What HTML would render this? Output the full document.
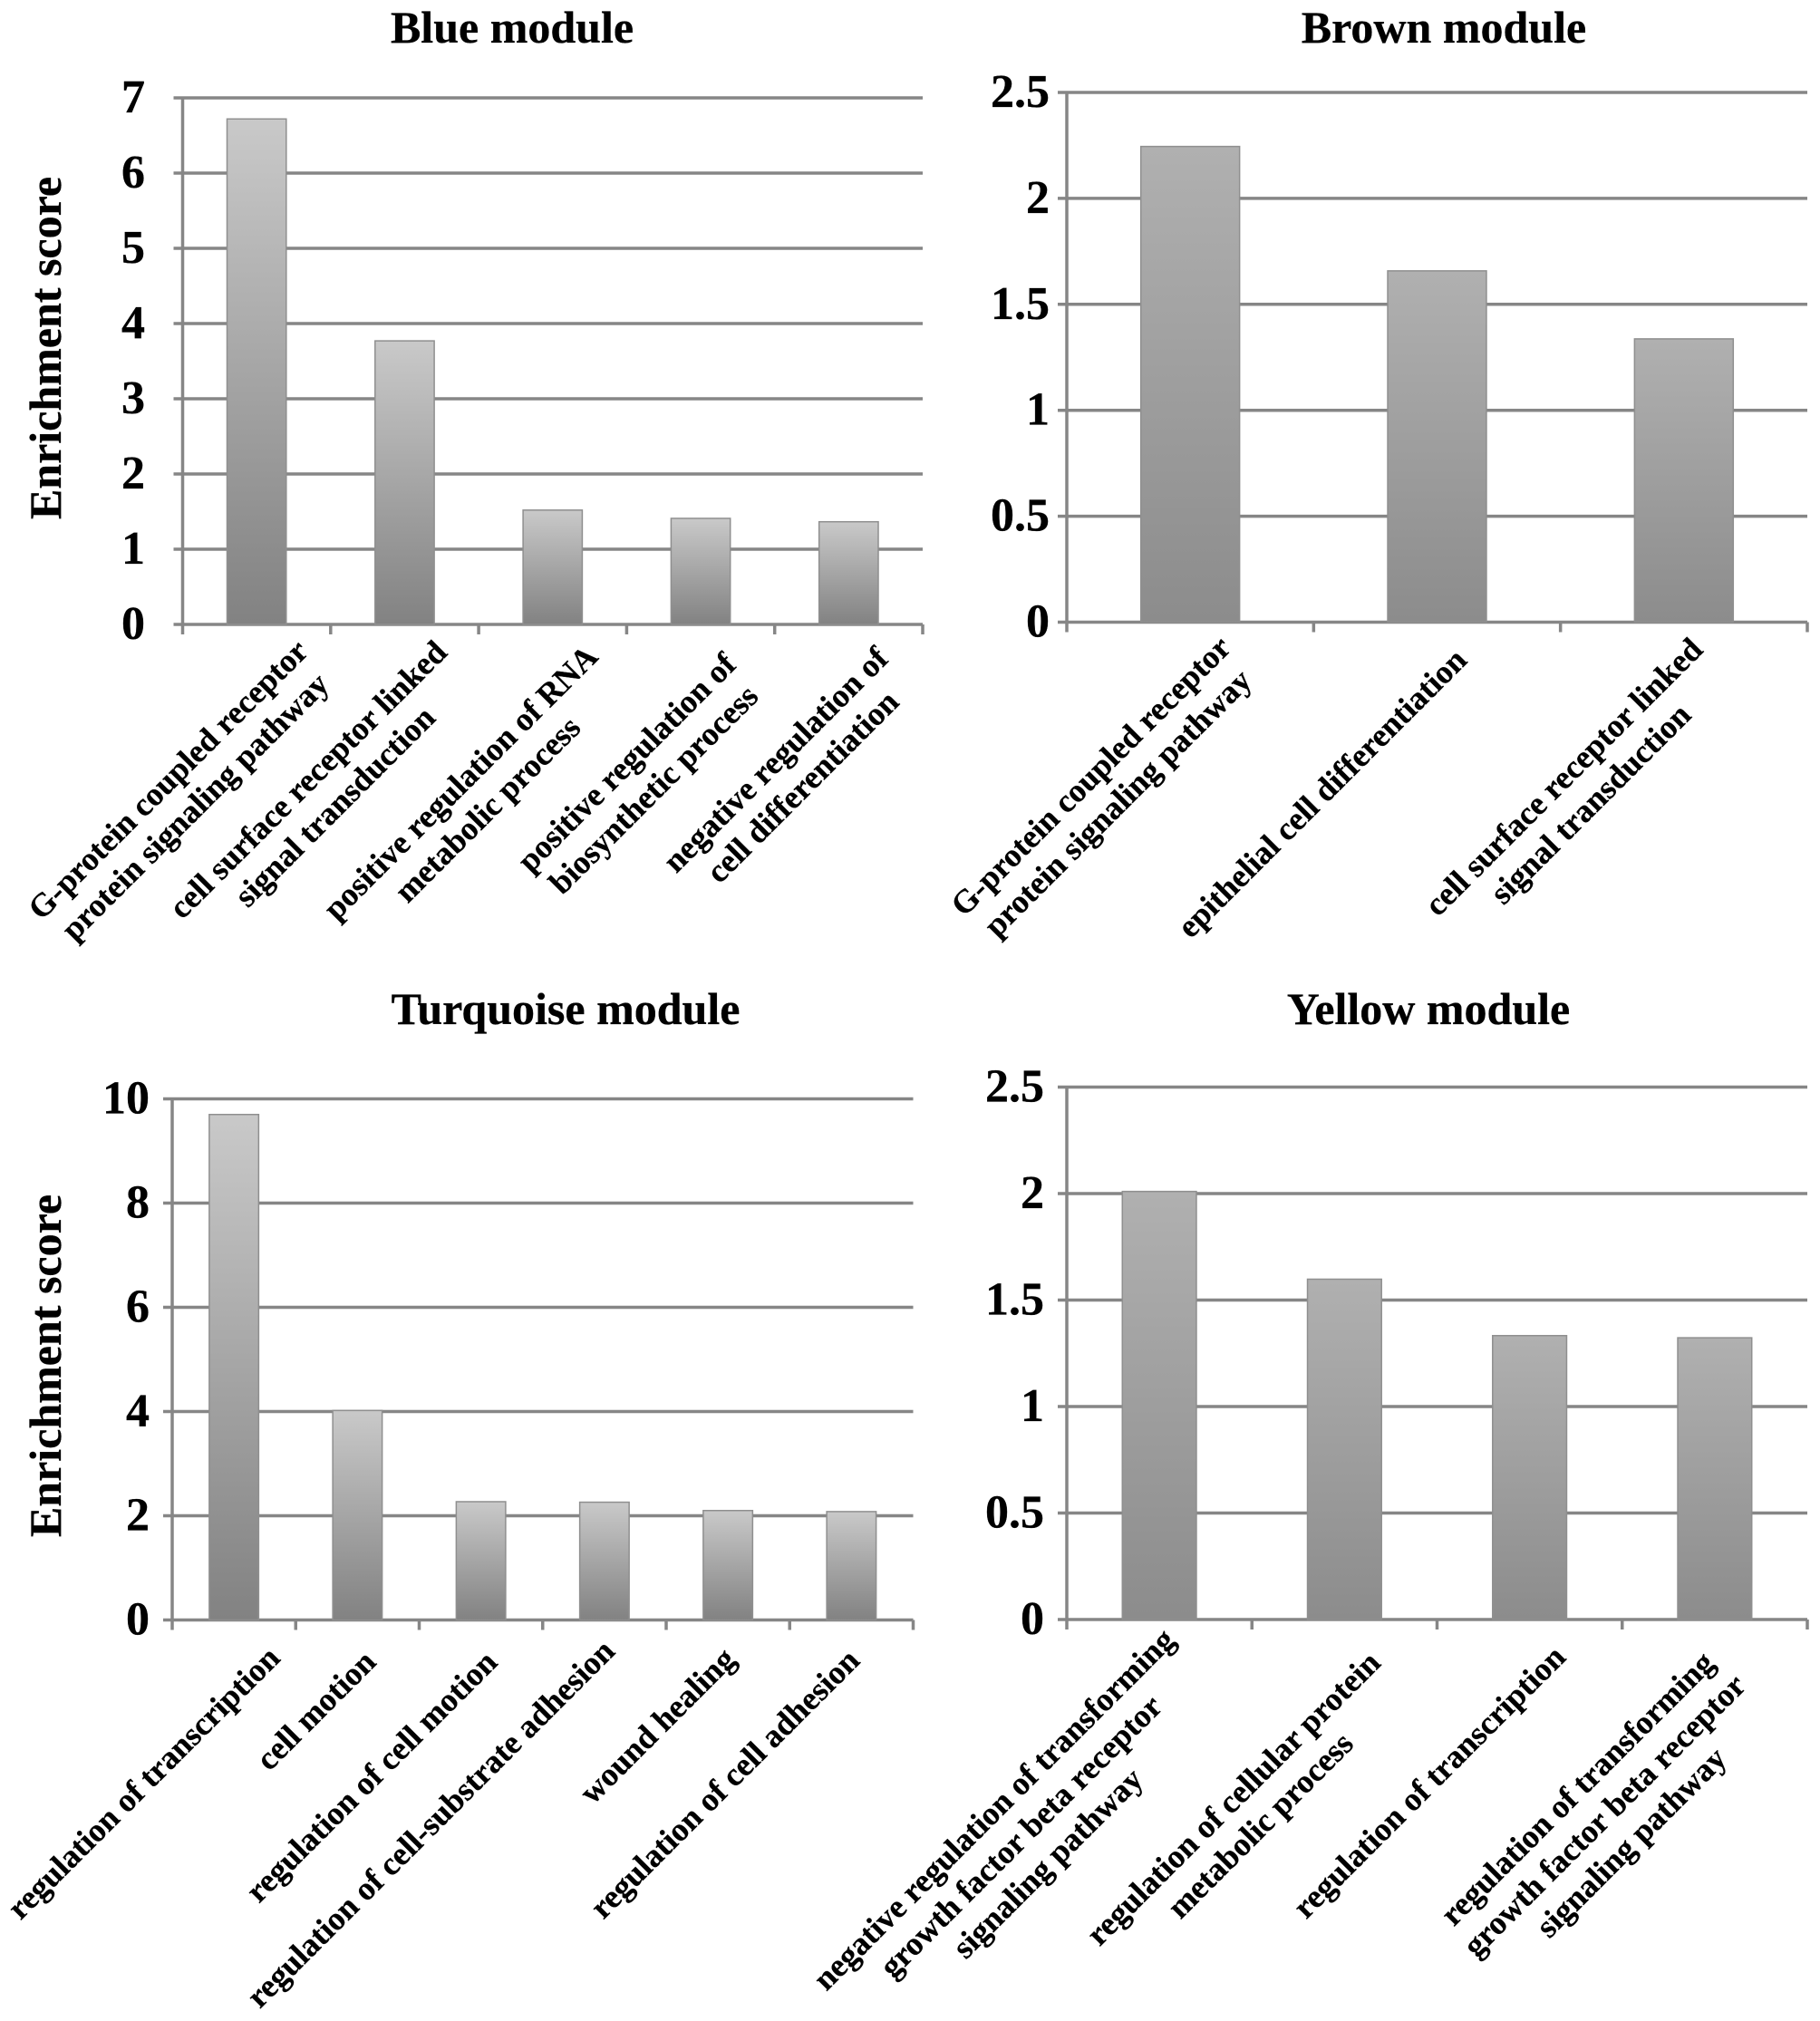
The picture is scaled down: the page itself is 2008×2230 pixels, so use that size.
<!DOCTYPE html>
<html>
<head>
<meta charset="utf-8">
<title>Module enrichment charts</title>
<style>
html,body{margin:0;padding:0;background:#fff;}
svg{display:block;}
text{font-family:"Liberation Serif",serif;font-weight:bold;fill:#000;stroke:#000;stroke-width:0.3px;}
</style>
</head>
<body>
<svg id="figure" xmlns="http://www.w3.org/2000/svg" width="2008" height="2230" viewBox="0 0 2008 2230">
<defs>
<linearGradient id="grad-light" x1="0" y1="0" x2="0" y2="1"><stop offset="0" stop-color="#c9c9c9"/><stop offset="1" stop-color="#828282"/></linearGradient>
<linearGradient id="grad-mid" x1="0" y1="0" x2="0" y2="1"><stop offset="0" stop-color="#b0b0b0"/><stop offset="1" stop-color="#8c8c8c"/></linearGradient>
</defs>
</svg>
<script>
const blueCategories = [["G-protein coupled receptor","protein signaling pathway"],["cell surface receptor linked","signal transduction"],["positive regulation of RNA","metabolic process"],["positive regulation of","biosynthetic process"],["negative regulation of","cell differentiation"]];
const blueValues = [6.72, 3.77, 1.52, 1.41, 1.365];
const blueTicks = ["0","1","2","3","4","5","6","7"];

const brownCategories = [["G-protein coupled receptor","protein signaling pathway"],["epithelial cell differentiation"],["cell surface receptor linked","signal transduction"]];
const brownValues = [2.245, 1.658, 1.337];
const brownTicks = ["0","0.5","1","1.5","2","2.5"];

const turquoiseCategories = [["regulation of transcription"],["cell motion"],["regulation of cell motion"],["regulation of cell-substrate adhesion"],["wound healing"],["regulation of cell adhesion"]];
const turquoiseValues = [9.7, 4.02, 2.27, 2.26, 2.1, 2.08];
const turquoiseTicks = ["0","2","4","6","8","10"];

const yellowCategories = [["negative regulation of transforming","growth factor beta receptor","signaling pathway"],["regulation of cellular protein","metabolic process"],["regulation of transcription"],["regulation of transforming","growth factor beta receptor","signaling pathway"]];
const yellowValues = [2.01, 1.598, 1.333, 1.323];
const yellowTicks = ["0","0.5","1","1.5","2","2.5"];

const svg = document.getElementById('figure');
const NS = 'http://www.w3.org/2000/svg';

function make(tag, attrs, parent) {
  const el = document.createElementNS(NS, tag);
  for (const k in attrs) el.setAttribute(k, attrs[k]);
  parent.appendChild(el);
  return el;
}

function drawChart(cfg) {
  const g = make('g', {}, svg);
  
  

  const tickMax = parseFloat(cfg.ticks[cfg.ticks.length - 1]);
  const yScale = function (v) { return cfg.bottom - (v / tickMax) * (cfg.bottom - cfg.top); };
  const band = (cfg.right - cfg.left) / cfg.categories.length;
  const xCenter = function (i) { return cfg.left + band * (i + 0.5); };

  const title = make('text', {x: cfg.titleX, y: cfg.titleY, 'text-anchor': 'middle', 'font-size': 50}, g);
  
  
  title.textContent = cfg.title;

  if (cfg.yTitleY) {
    const yt = make('text', {'text-anchor': 'middle', 'font-size': 50, transform: 'translate(67,' + cfg.yTitleY + ') rotate(-90)'}, g);
    
    
    yt.textContent = 'Enrichment score';
  }

  cfg.ticks.forEach(function (t) {
    const y = yScale(parseFloat(t));
    const grid = make('line', {x1: cfg.left - 10, x2: cfg.right, y1: y, y2: y, stroke: '#868686', 'stroke-width': 3.5}, g);
    
    
    const lab = make('text', {x: cfg.tickX, y: y + 16, 'text-anchor': 'end', 'font-size': 52}, g);
    
    
    lab.textContent = t;
  });

  const axis = make('line', {x1: cfg.left, x2: cfg.left, y1: cfg.top, y2: cfg.bottom + 11, stroke: '#868686', 'stroke-width': 3.5}, g);
  
  

  for (let i = 1; i <= cfg.categories.length; i++) {
    const tx = cfg.left + band * i;
    const tick = make('line', {x1: tx, x2: tx, y1: cfg.bottom, y2: cfg.bottom + 11, stroke: '#868686', 'stroke-width': 3.5}, g);
    
    
  }

  cfg.values.forEach(function (v, i) {
    const w = band * 0.4;
    const y = yScale(v);
    const bar = make('rect', {x: xCenter(i) - w / 2, y: y, width: w, height: cfg.bottom - y, fill: 'url(#' + cfg.fill + ')', stroke: '#8f8f8f', 'stroke-width': 1.5}, g);
    
    
  });

  const LH = 42;
  cfg.categories.forEach(function (lines, i) {
    const off = cfg.labelCenters[i];
    const cx = xCenter(i) + off[0];
    const cy = off[1];
    const label = make('text', {'text-anchor': 'middle', 'font-size': 36, transform: 'translate(' + cx + ',' + cy + ') rotate(-45)'}, g);
    
    
    lines.forEach(function (line, j) {
      const sp = make('tspan', {x: 0, y: (j - (lines.length - 1) / 2) * LH + 12}, label);
      sp.textContent = line;
    });
  });
}

drawChart({slug: 'blue', title: 'Blue module', titleX: 565, titleY: 47, yTitleY: 384, left: 201.5, right: 1018, top: 108, bottom: 689, tickX: 160, fill: 'grad-light',
  categories: blueCategories, values: blueValues, ticks: blueTicks,
  labelCenters: [[-83,875],[-92,875],[-87,878],[-67,856],[-66,853]]});
drawChart({slug: 'brown', title: 'Brown module', titleX: 1593, titleY: 47, left: 1177, right: 1994, top: 102, bottom: 686.5, tickX: 1158, fill: 'grad-mid',
  categories: brownCategories, values: brownValues, ticks: brownTicks,
  labelCenters: [[-95,871],[-127,875],[-118,872]]});
drawChart({slug: 'turquoise', title: 'Turquoise module', titleX: 624, titleY: 1130, yTitleY: 1507, left: 190, right: 1007.5, top: 1212.5, bottom: 1787.5, tickX: 165, fill: 'grad-light',
  categories: turquoiseCategories, values: turquoiseValues, ticks: turquoiseTicks,
  labelCenters: [[-100,1967],[-46,1887],[-121,1960],[-192,2012],[-78,1904],[-140,1968]]});
drawChart({slug: 'yellow', title: 'Yellow module', titleX: 1576, titleY: 1130, left: 1177, right: 1994, top: 1199.5, bottom: 1787, tickX: 1152, fill: 'grad-mid',
  categories: yellowCategories, values: yellowValues, ticks: yellowTicks,
  labelCenters: [[-153,2026],[-108,1999],[-111,1966],[-122,2003]]});
</script>
</body>
</html>
